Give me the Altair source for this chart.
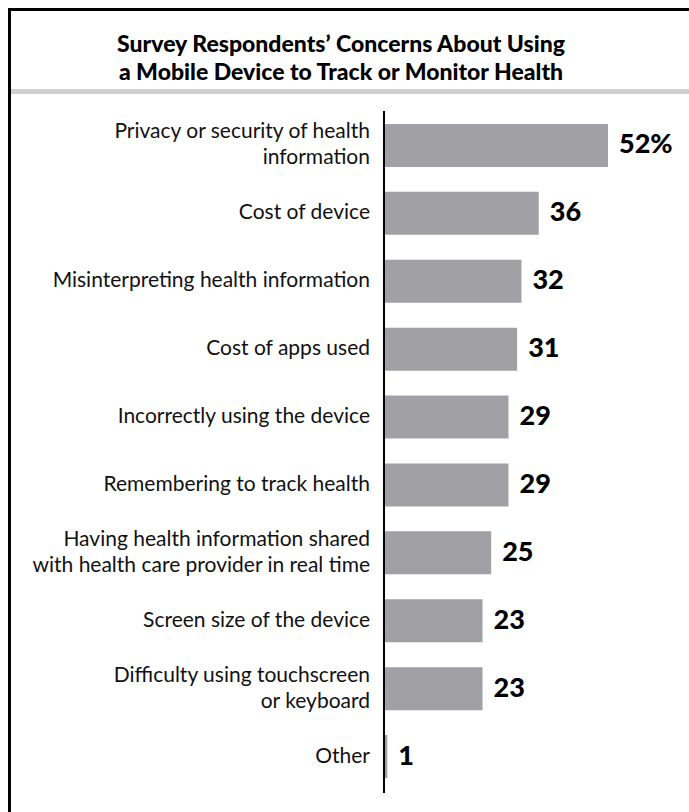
import altair as alt
import pandas as pd

title_lines = ["Survey Respondents\u2019 Concerns About Using",
               "a Mobile Device to Track or Monitor Health"]
categories = [
    "Privacy or security of health\ninformation",
    "Cost of device",
    "Misinterpreting health information",
    "Cost of apps used",
    "Incorrectly using the device",
    "Remembering to track health",
    "Having health information shared\nwith health care provider in real time",
    "Screen size of the device",
    "Difficulty using touchscreen\nor keyboard",
    "Other",
]
values = [52, 36, 32, 31, 29, 29, 25, 23, 23, 1]
value_labels = ["52%", "36", "32", "31", "29", "29", "25", "23", "23", "1"]

df = pd.DataFrame({"cat": categories, "val": values, "lab": value_labels})
df["nlines"] = [c.count("\n") + 1 for c in categories]
tdf = pd.DataFrame({"t": ["\n".join(title_lines)]})

FONT = "Lato"
PAD = 9.5
W, H = 689 - PAD, 812 - PAD

y = alt.Y("cat:N", sort=categories, axis=None,
          scale=alt.Scale(range=[102, 781], paddingInner=0.366, paddingOuter=0.183))
x = alt.X("val:Q", axis=None, scale=alt.Scale(domain=[0, 52], range=[373.5, 598.5]))

bars = alt.Chart(df).mark_bar(color="#a1a1a5").encode(x=x, y=y)

vals = alt.Chart(df).mark_text(align="left", baseline="middle", dx=11,
                               font=FONT, fontWeight=900, fontSize=27,
                               color="#000000").encode(x=x, y=y, text="lab:N")

label_style = dict(align="right", baseline="middle", font=FONT, fontSize=21,
                   lineBreak="\n", lineHeight=26, color="#111111")
labels1 = alt.Chart(df).transform_filter("datum.nlines == 1").mark_text(
    **label_style).encode(x=alt.value(360.5), y=y, text="cat:N")
labels2 = alt.Chart(df).transform_filter("datum.nlines == 2").mark_text(
    dy=-13, **label_style).encode(x=alt.value(360.5), y=y, text="cat:N")

axis_line = alt.Chart(df).mark_rule(color="#000000", strokeWidth=2).encode(
    x=alt.value(374.5), y=alt.value(102), y2=alt.value(783))

divider = alt.Chart(df).mark_rule(color="#d0d0d0", strokeWidth=5).encode(
    x=alt.value(0), x2=alt.value(W), y=alt.value(82))

frame_left = alt.Chart(df).mark_rule(color="#000000", strokeWidth=3).encode(
    x=alt.value(0), y=alt.value(-1.5), y2=alt.value(H))
frame_top = alt.Chart(df).mark_rule(color="#000000", strokeWidth=3).encode(
    x=alt.value(-1.5), x2=alt.value(W), y=alt.value(0))

title = alt.Chart(tdf).mark_text(align="center", baseline="middle", font=FONT,
                                 fontWeight=900, fontSize=23, lineBreak="\n",
                                 lineHeight=28, color="#000000").encode(
    x=alt.value(331.5), y=alt.value(35.5), text="t:N")

chart = alt.layer(divider, title, bars, vals, labels1, labels2, axis_line,
                  frame_left, frame_top).properties(
    width=W, height=H,
    autosize=alt.AutoSizeParams(type="none"),
    padding={"left": PAD, "top": PAD, "right": 0, "bottom": 0},
    background="#ffffff",
).configure_view(strokeWidth=0)

chart.save("out.html", embed_options={"renderer": "svg", "actions": False})
